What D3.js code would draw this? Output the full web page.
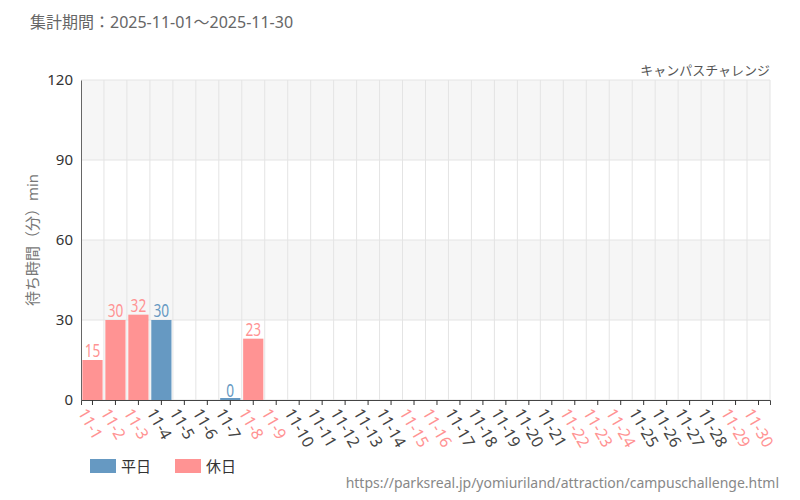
<!DOCTYPE html>
<html><head><meta charset="utf-8">
<script src="https://cdn.jsdelivr.net/npm/d3@7"></script>
<style>body{margin:0;background:#fff}text{font-family:"Noto Sans","Noto Sans CJK JP",sans-serif}</style>
</head><body><svg id="c" width="800" height="500"></svg>
<script>
const days = d3.range(1, 31).map(d => "11-" + d);
const holidays = [1, 2, 3, 8, 9, 15, 16, 22, 23, 24, 29, 30];
const values = [15, 30, 32, 30, null, null, 0, 23];
const yTicks = [0, 30, 60, 90, 120];
const blue = "#6699c2", pink = "#ff9393";

const svg = d3.select("#c");
const m = {l: 81, r: 770, t: 80, b: 400};
const x = d3.scaleBand().domain(days).range([m.l, m.r]).paddingInner(0.12).paddingOuter(0.06);
const xb = d3.scaleBand().domain(days).range([m.l, m.r]);
const y = d3.scaleLinear().domain([0, 120]).range([m.b, m.t]);
const isHol = d => holidays.includes(+d.split("-")[1]);

svg.append("text").attr("x", 30).attr("y", 28).attr("font-size", 16).attr("fill", "#666").text("集計期間：2025-11-01～2025-11-30");
svg.append("text").attr("x", 770).attr("y", 75).attr("text-anchor", "end").attr("font-size", 13).attr("fill", "#555").text("キャンパスチャレンジ");

for (let i = 0; i < 4; i++) svg.append("rect").attr("x", m.l).attr("width", m.r - m.l)
  .attr("y", y(yTicks[i + 1])).attr("height", y(yTicks[i]) - y(yTicks[i + 1])).attr("fill", i % 2 ? "#f6f6f6" : "#fff");
svg.selectAll(".hg").data(yTicks).join("line").attr("x1", m.l).attr("x2", m.r).attr("y1", d => y(d)).attr("y2", d => y(d)).attr("stroke", "#e4e4e4");
svg.selectAll(".vg").data(days).join("line").attr("x1", d => xb(d) + xb.bandwidth()).attr("x2", d => xb(d) + xb.bandwidth())
  .attr("y1", m.t).attr("y2", m.b).attr("stroke", "#e4e4e4");

const data = values.map((v, i) => ({d: days[i], v})).filter(o => o.v !== null);
svg.selectAll(".bar").data(data).join("rect").attr("x", o => x(o.d)).attr("width", x.bandwidth())
  .attr("y", o => y(o.v) - (o.v === 0 ? 2 : 0)).attr("height", o => Math.max(2, y(0) - y(o.v)))
  .attr("fill", o => isHol(o.d) ? pink : blue);
svg.selectAll(".lb").data(data).join("text").attr("x", o => x(o.d) + x.bandwidth() / 2).attr("y", o => y(o.v) - 3)
  .attr("text-anchor", "middle").attr("font-size", 19).attr("font-family", "DejaVu Sans Condensed").attr("font-stretch", "condensed")
  .attr("transform", o => `translate(${x(o.d) + x.bandwidth() / 2},0) scale(0.72,1) translate(${-(x(o.d) + x.bandwidth() / 2)},0)`)
  .attr("fill", o => isHol(o.d) ? pink : blue).text(o => o.v);

const ya = svg.append("g").attr("transform", `translate(${m.l},0)`).call(d3.axisLeft(y).tickValues(yTicks).tickSize(0).tickPadding(8));
ya.select(".domain").attr("stroke", "#666");
ya.selectAll("text").attr("font-size", 15).attr("fill", "#333").attr("font-family", "Noto Sans");
const xa = svg.append("g").attr("transform", `translate(0,${m.b})`).call(d3.axisBottom(xb).tickSize(5));
xa.select(".domain").attr("stroke", "#444");
xa.selectAll("line").attr("stroke", "#333");
xa.selectAll("text").attr("font-size", 16).attr("font-family", "DejaVu Sans Condensed").attr("text-anchor", "start")
  .attr("transform", "translate(-4,6) rotate(60)").attr("dy", "0.3em")
  .attr("fill", d => isHol(d) ? pink : "#444");

svg.append("text").attr("transform", "translate(38,240) rotate(-90)").attr("text-anchor", "middle").attr("font-size", 15).attr("fill", "#777").text("待ち時間（分）min");

[["平日", blue, 90], ["休日", pink, 175]].forEach(([t, c, lx]) => {
  svg.append("rect").attr("x", lx).attr("y", 459).attr("width", 26).attr("height", 14).attr("fill", c);
  svg.append("text").attr("x", lx + 31).attr("y", 472).attr("font-size", 15).attr("fill", "#333").text(t);
});
svg.append("text").attr("x", 779).attr("y", 488).attr("text-anchor", "end").attr("font-size", 14).attr("fill", "#888").text("https://parksreal.jp/yomiuriland/attraction/campuschallenge.html");
</script></body></html>
